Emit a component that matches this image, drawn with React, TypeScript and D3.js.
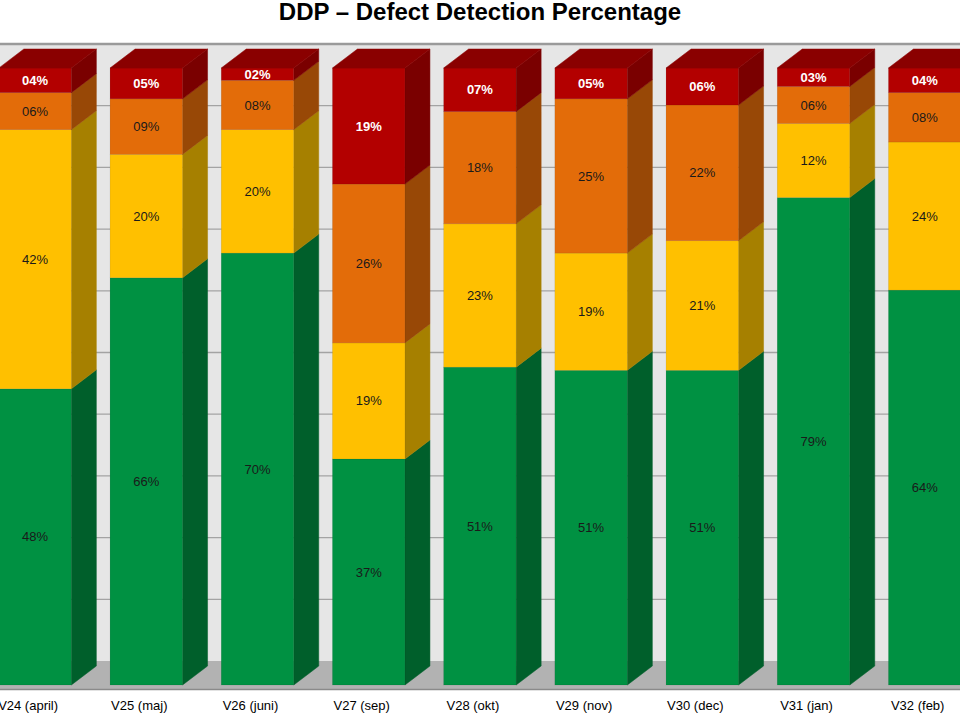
import React from "react";
import * as d3 from "d3";

const categories = [
  "V24 (april)",
  "V25 (maj)",
  "V26 (juni)",
  "V27 (sep)",
  "V28 (okt)",
  "V29 (nov)",
  "V30 (dec)",
  "V31 (jan)",
  "V32 (feb)",
];
const green = [48, 66, 70, 37, 51, 51, 51, 79, 64];
const yellow = [42, 20, 20, 19, 23, 19, 21, 12, 24];
const orange = [6, 9, 8, 26, 18, 25, 22, 6, 8];
const red = [4, 5, 2, 19, 7, 5, 6, 3, 4];

const seriesKeys = ["green", "yellow", "orange", "red"];
const frontColors = ["#009142", "#ffc000", "#e36c09", "#b30000"];
const sideColors = ["#005f2b", "#a68000", "#984806", "#7a0000"];
const topColors = ["#007a36", "#d9a300", "#b8560a", "#8a0000"];
const labelColors = ["#1a1a1a", "#1a1a1a", "#1a1a1a", "#ffffff"];
const labelWeights = ["normal", "normal", "normal", "bold"];

const W = 960;
const H = 714;
const DX = 25;
const DY = 19;

export default function App() {
  const rows = categories.map((c, i) => ({
    cat: c,
    green: green[i],
    yellow: yellow[i],
    orange: orange[i],
    red: red[i],
  }));
  const stack = d3
    .stack<any>()
    .keys(seriesKeys)
    .offset(d3.stackOffsetExpand);
  const layers = stack(rows);

  const x = d3
    .scaleBand<string>()
    .domain(categories)
    .range([-20.5, 980.3])
    .paddingInner(0.348)
    .paddingOuter(0.174);
  const yFront = d3.scaleLinear().domain([0, 1]).range([685, 68]);
  const yBack = d3.scaleLinear().domain([0, 1]).range([661, 44]);
  const gridTicks = yBack.ticks(10).filter((t) => t > 0 && t < 1);
  const fmt = d3.format("02d");

  const bw = x.bandwidth();

  return (
    <svg
      width={W}
      height={H}
      style={{ position: "absolute", left: 0, top: 0, fontFamily: "Liberation Sans, Arial, sans-serif" }}
    >
      <rect x={0} y={0} width={W} height={H} fill="#ffffff" />
      {/* back wall */}
      <rect x={0} y={yBack(1)} width={W} height={yBack(0) - yBack(1)} fill="#e6e6e6" />
      {gridTicks.map((t) => (
        <line key={t} x1={0} x2={W} y1={yBack(t)} y2={yBack(t)} stroke="#a3a3a3" strokeWidth={1.3} />
      ))}
      <line x1={0} x2={W} y1={yBack(1)} y2={yBack(1)} stroke="#9a9a9a" strokeWidth={2.5} />
      {/* floor */}
      <rect x={0} y={yBack(0)} width={W} height={689 - yBack(0)} fill="#b2b2b2" />
      <line x1={0} x2={W} y1={689.5} y2={689.5} stroke="#8a8a8a" strokeWidth={1.5} />

      {/* bars */}
      {categories.map((c, i) => {
        const x0 = x(c)!;
        const x1 = x0 + bw;
        return (
          <g key={c}>
            {layers.map((layer, li) => {
              const seg = layer[i];
              const yb = yFront(seg[0]);
              const yt = yFront(seg[1]);
              const side = `M${x1},${yt} L${x1 + DX},${yt - DY} L${x1 + DX},${yb - DY} L${x1},${yb} Z`;
              return (
                <g key={layer.key}>
                  <path d={side} fill={sideColors[li]} stroke={sideColors[li]} strokeWidth={0.5} />
                  <rect
                    x={x0}
                    y={yt}
                    width={bw}
                    height={yb - yt}
                    fill={frontColors[li]}
                    stroke="rgba(0,0,0,0.12)"
                    strokeWidth={0.6}
                  />
                  {li === layers.length - 1 && (
                    <path
                      d={`M${x0},${yt} L${x0 + DX},${yt - DY} L${x1 + DX},${yt - DY} L${x1},${yt} Z`}
                      fill={topColors[li]}
                      stroke={topColors[li]}
                      strokeWidth={0.5}
                    />
                  )}
                </g>
              );
            })}
            {layers.map((layer, li) => {
              const seg = layer[i];
              const yc = (yFront(seg[0]) + yFront(seg[1])) / 2;
              const v = (rows[i] as any)[layer.key];
              return (
                <text
                  key={"l" + layer.key}
                  x={x0 + bw / 2}
                  y={yc}
                  dy="0.35em"
                  textAnchor="middle"
                  fontSize={13}
                  fontWeight={labelWeights[li]}
                  fill={labelColors[li]}
                >
                  {fmt(v) + "%"}
                </text>
              );
            })}
            <text
              x={x0 + bw / 2 - 7}
              y={705}
              dy="0.35em"
              textAnchor="middle"
              fontSize={13}
              fill="#000"
            >
              {c}
            </text>
          </g>
        );
      })}

      <text
        x={480}
        y={20}
        textAnchor="middle"
        fontSize={24}
        fontWeight="bold"
        fill="#000"
      >
        DDP – Defect Detection Percentage
      </text>
    </svg>
  );
}
